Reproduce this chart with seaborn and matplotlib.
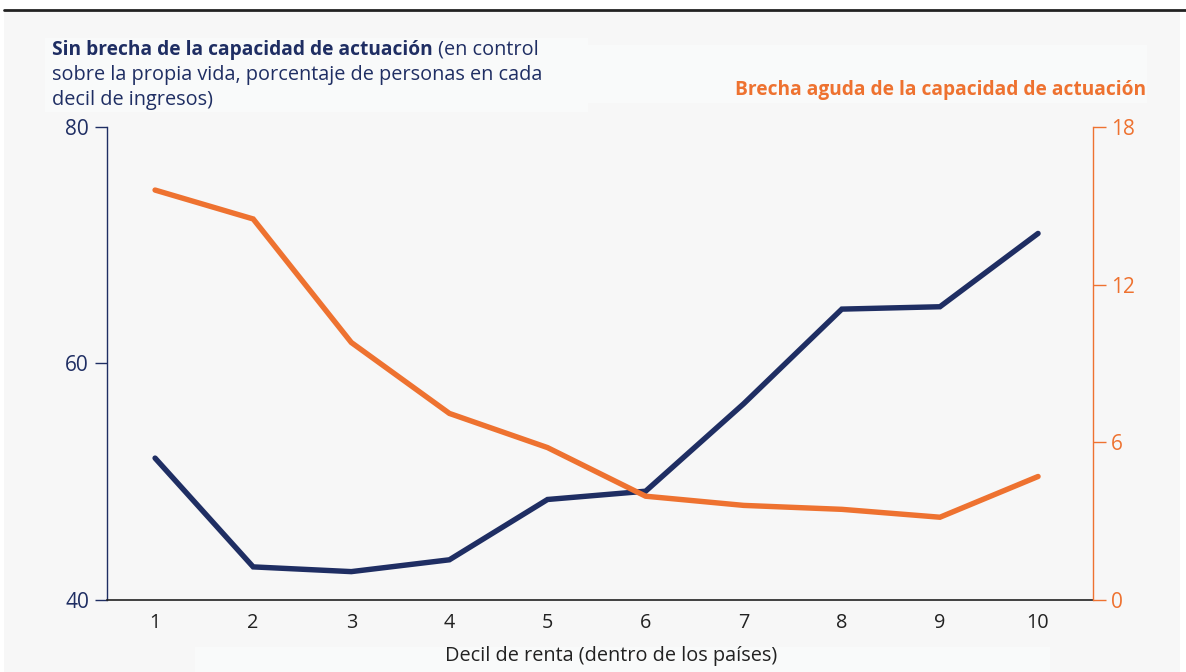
import matplotlib
matplotlib.use("Agg")
import matplotlib.pyplot as plt
import seaborn as sns
import pandas as pd
from matplotlib.patches import Rectangle
from matplotlib.lines import Line2D

deciles = [1, 2, 3, 4, 5, 6, 7, 8, 9, 10]
sin_brecha = [52.0, 42.8, 42.4, 43.4, 48.5, 49.2, 56.6, 64.6, 64.8, 71.0]
brecha_aguda = [15.6, 14.5, 9.8, 7.1, 5.8, 3.95, 3.6, 3.45, 3.15, 4.7]
left_ticks = [40, 60, 80]
right_ticks = [0, 6, 12, 18]

NAVY = "#1f2e63"
ORANGE = "#ee7230"
BG = "#f7f7f7"
FS = 14.3
TFS = 14.3
BFS = 13.8

sns.set_theme(style="white")
plt.rcParams["font.family"] = ["Open Sans", "DejaVu Sans"]

fig = plt.figure(figsize=(11.86, 6.72), dpi=100)
fig.patch.set_facecolor("white")
W, H = 1186, 672

def fx(px):
    return px / W

def fy(py):
    return 1 - py / H

# gray panel and top rule
fig.patches.append(Rectangle((fx(4), 0), fx(1180) - fx(4), fy(12), transform=fig.transFigure,
                             facecolor=BG, edgecolor="none", zorder=-3))
fig.lines.append(Line2D([fx(4), 1.0], [fy(10), fy(10)], transform=fig.transFigure,
                        color="#222222", linewidth=2, zorder=-1))
# subtle lighter boxes behind titles
for (x0, y0, x1, y1) in [(45, 38, 588, 112), (588, 45, 1147, 103), (195, 647, 1050, 672)]:
    fig.patches.append(Rectangle((fx(x0), fy(y1)), fx(x1) - fx(x0), fy(y0) - fy(y1),
                                 transform=fig.transFigure, facecolor="#f9fafa",
                                 edgecolor="none", zorder=-2))

ax = fig.add_axes([fx(107), fy(600), fx(1093) - fx(107), fy(127) - fy(600)])
ax.set_facecolor("none")
ax2 = ax.twinx()
ax2.set_facecolor("none")

df = pd.DataFrame({"decil": deciles, "sin": sin_brecha, "aguda": brecha_aguda})
sns.lineplot(data=df, x="decil", y="sin", ax=ax, color=NAVY, linewidth=3.9,
             solid_capstyle="round", solid_joinstyle="miter")
sns.lineplot(data=df, x="decil", y="aguda", ax=ax2, color=ORANGE, linewidth=3.9,
             solid_capstyle="round", solid_joinstyle="miter")

ax.set_xlim(0.51, 10.56)
ax.set_ylim(40, 80)
ax2.set_ylim(0, 18)
ax.set_xticks(deciles)
ax.set_xticklabels([str(d) for d in deciles])
ax.set_yticks(left_ticks)
ax2.set_yticks(right_ticks)

for a in (ax, ax2):
    a.set_xlabel("")
    a.set_ylabel("")
    a.grid(False)
    a.spines["top"].set_visible(False)

ax.spines["left"].set_color(NAVY)
ax.spines["left"].set_linewidth(1.0)
ax.spines["right"].set_visible(False)
ax.spines["bottom"].set_color("#222222")
ax.spines["bottom"].set_linewidth(1.2)
ax2.spines["left"].set_visible(False)
ax2.spines["bottom"].set_visible(False)
ax2.spines["right"].set_color(ORANGE)
ax2.spines["right"].set_linewidth(1.0)

ax.tick_params(axis="y", direction="out", length=9, width=1, color=NAVY,
               labelcolor=NAVY, labelsize=15, pad=4, left=True)
ax.tick_params(axis="x", length=0, labelsize=FS, labelcolor="#222222", pad=9)
ax2.tick_params(axis="y", direction="out", length=9, width=1, color=ORANGE,
                labelcolor=ORANGE, labelsize=15, pad=4, right=True)

ax.set_xlabel("Decil de renta (dentro de los países)", fontsize=FS, color="#222222", labelpad=10)
ax.xaxis.label.set_x((611 - 107) / 986)

# left title (mixed weight)
t1 = fig.text(fx(52), fy(50), "Sin brecha de la capacidad de actuación", fontsize=BFS,
              fontweight="bold", color=NAVY, va="center", ha="left")
fig.canvas.draw()
bb = t1.get_window_extent(renderer=fig.canvas.get_renderer())
fig.text(bb.x1 / fig.dpi / fig.get_figwidth(), fy(50), " (en control", fontsize=TFS,
         color=NAVY, va="center", ha="left")
fig.text(fx(52), fy(75), "sobre la propia vida, porcentaje de personas en cada", fontsize=TFS,
         color=NAVY, va="center", ha="left")
fig.text(fx(52), fy(100), "decil de ingresos)", fontsize=TFS, color=NAVY, va="center", ha="left")

# right title
fig.text(fx(1146), fy(90), "Brecha aguda de la capacidad de actuación", fontsize=BFS,
         fontweight="bold", color=ORANGE, va="center", ha="right")

fig.savefig("out.png", dpi=100, facecolor=fig.get_facecolor())
